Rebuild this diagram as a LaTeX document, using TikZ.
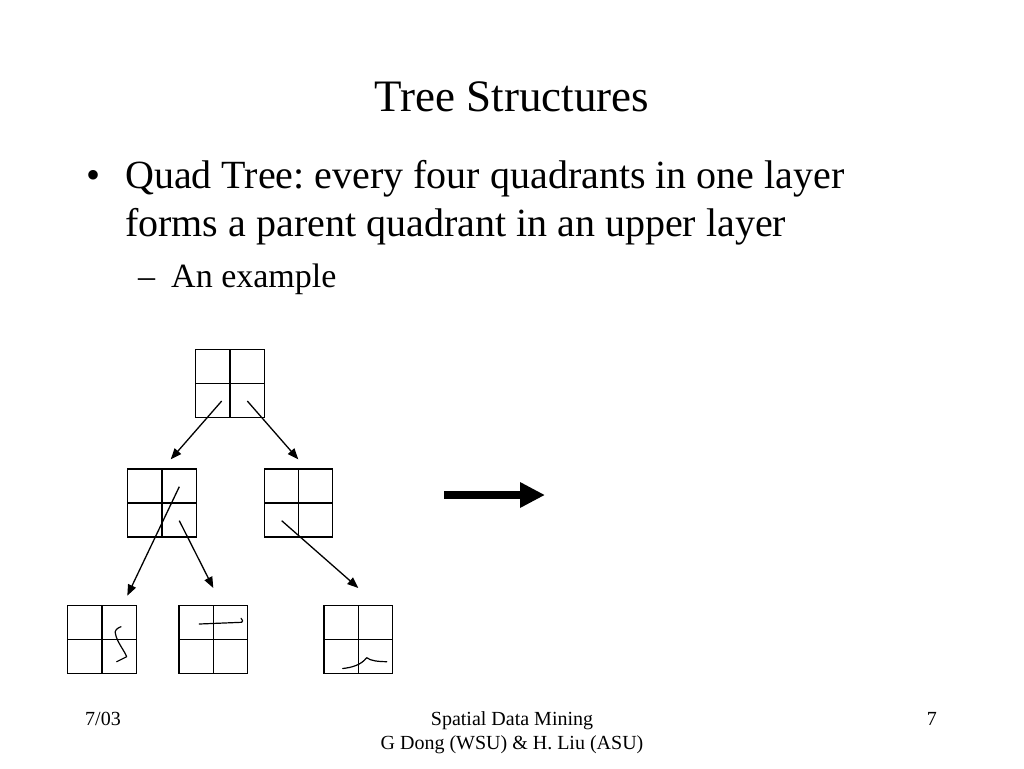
\documentclass[tikz,border=0pt]{standalone}
\usepackage{fontspec}
\setmainfont{Liberation Serif}
\usetikzlibrary{arrows.meta,calc}
\frenchspacing
\tikzset{
  quad/.style={draw, line width=1.2pt, minimum width=68.5pt, minimum height=68pt, inner sep=0pt,
    path picture={\draw[line width=1.2pt] (path picture bounding box.north) -- (path picture bounding box.south);
                  \draw[line width=1.2pt] (path picture bounding box.west) -- (path picture bounding box.east);}},
  link/.style={line width=1.3pt, -{Triangle[length=11pt,width=8.5pt]}},
  bigarrow/.style={line width=8.6pt, -{Triangle[length=25pt,width=24pt]}},
  squig/.style={line width=1.2pt, line cap=round, line join=round},
  title/.style={font=\fontsize{45}{54}\selectfont, inner sep=0pt},
  body/.style={font=\fontsize{40}{48}\selectfont, inner sep=0pt},
  sub/.style={font=\fontsize{34}{40}\selectfont, inner sep=0pt},
  foot/.style={font=\fontsize{20}{24}\selectfont, inner sep=0pt}
}
\begin{document}
\begin{tikzpicture}[x=1pt,y=-1pt]
\useasboundingbox (0,0) rectangle (1024,768);
\fill[white] (0,0) rectangle (1024,768);

% texts
\node[title, anchor=base] (ttl) at (512,111) {Tree Structures};
\node[body, anchor=base west] (b1) at (86,188) {\textbullet};
\node[body, anchor=base west] (l1) at (125,188) {Quad Tree: every four quadrants in one layer};
\node[body, anchor=base west] (l2) at (125,236) {forms a parent quadrant in an upper layer};
\node[sub, anchor=base west] (d1) at (138,287) {\textendash};
\node[sub, anchor=base west] (l3) at (171,287) {An example};

% quad boxes
\node[quad] (t)  at (230,383.5) {};
\node[quad] (ml) at (162,503) {};
\node[quad] (mr) at (298.5,503) {};
\node[quad] (b1q) at (102,639.3) {};
\node[quad] (b2q) at (213.2,639.3) {};
\node[quad] (b3q) at (358.2,639.3) {};

% connector ends
\coordinate (s1) at ($(t.center)+(-8.3,17.5)$);
\coordinate (e1) at ($(ml.north)+(8.7,-9)$);
\coordinate (s2) at ($(t.center)+(17.3,17.5)$);
\coordinate (e2) at ($(mr.north)+(-0.2,-9)$);
\coordinate (s3) at ($(ml.center)+(17.3,-16.3)$);
\coordinate (e3) at ($(b1q.north)+(25.3,-9)$);
\coordinate (s4) at ($(ml.center)+(17.3,17.7)$);
\coordinate (e4) at ($(b2q.north)+(0.1,-16.7)$);
\coordinate (s5) at ($(mr.center)+(-16.8,17.7)$);
\coordinate (e5) at ($(b3q.north)+(0.1,-16.7)$);

\draw[link] (s1) -- (e1);
\draw[link] (s2) -- (e2);
\draw[link] (s3) -- (e3);
\draw[link] (s4) -- (e4);
\draw[link] (s5) -- (e5);

% squiggles
\draw[squig] (121,626.7) .. controls (117,628) and (114,631) .. (115.5,634)
   .. controls (117,642) and (124,650) .. (126.7,656.7) -- (116.7,661.7);
\draw[squig] (199.3,624) -- (241.7,622.3) .. controls (243,621) .. (241,618.3);
\draw[squig] (342.7,668.5) .. controls (352,667.5) and (361,665) .. (366.7,657.7)
   .. controls (371,661) and (378,661.5) .. (386.7,661.7);

% big arrow
\coordinate (ba) at (444,495);
\coordinate (bb) at (545,495);
\draw[bigarrow] (ba) -- (bb);

% footer
\node[foot, anchor=base west] (f1) at (85,725) {7/03};
\node[foot, anchor=base] (f2) at (512,725) {Spatial Data Mining};
\node[foot, anchor=base] (f3) at (512,749) {G Dong (WSU) \& H. Liu (ASU)};
\node[foot, anchor=base east] (f4) at (937,725) {7};
\end{tikzpicture}
\end{document}
